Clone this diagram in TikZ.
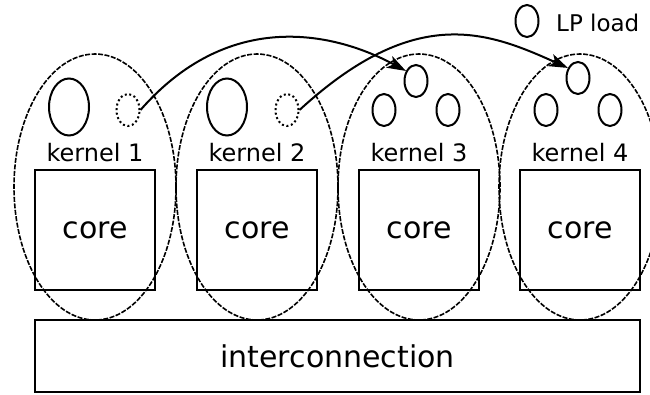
\documentclass[tikz,border=0pt]{standalone}
\usepackage{fontspec}
\setmainfont{DejaVu Sans}
\usetikzlibrary{shapes.geometric,arrows.meta}
\begin{document}
\begin{tikzpicture}[x=1pt,y=-1pt,
  kernelzone/.style={draw, ellipse, inner sep=0pt, line width=1.6pt,
    dash pattern=on 5pt off 1.5pt, minimum width=162pt, minimum height=266pt},
  corebox/.style={draw, line width=1.7pt, minimum width=120pt, minimum height=120pt,
    inner sep=0pt, font=\fontsize{30}{30}\selectfont},
  bigload/.style={draw, ellipse, line width=2pt, inner sep=0pt, minimum width=40pt, minimum height=57pt},
  lpload/.style={draw, ellipse, line width=2pt, inner sep=0pt, minimum width=23pt, minimum height=32pt},
  ghost/.style={lpload, dash pattern=on 2pt off 2.6pt},
  klabel/.style={font=\fontsize{24}{24}\selectfont},
  migrate/.style={line width=2pt, -{Stealth[length=19pt,width=13pt,inset=5pt]}}]
\useasboundingbox (0,0) rectangle (650,394);

% interconnection bar
\node[draw, line width=1.5pt, minimum width=605pt, minimum height=72pt, inner sep=0pt,
  font=\fontsize{30}{30}\selectfont] (net) at (337.5,356) {interconnection};

% cores
\foreach \i/\x in {1/95,2/257,3/419,4/580}{
  \node[corebox] (core\i) at (\x,230) {core};
  \node[klabel] (lab\i) at (\x,153) {kernel \i};
  \node[kernelzone] (zone\i) at (\x,187) {};
}

% kernels 1 and 2: one large load and a departed LP
\node[bigload] (k1b) at (69,107) {};
\node[ghost] (k1d) at (128,110) {};
\node[bigload] (k2b) at (227,107) {};
\node[ghost] (k2d) at (287,110) {};

% kernels 3 and 4: three LP loads each
\node[lpload] (k3t) at (416,81) {};
\node[lpload] (k3l) at (384,110) {};
\node[lpload] (k3r) at (448,110) {};
\node[lpload] (k4t) at (578,78) {};
\node[lpload] (k4l) at (546,110) {};
\node[lpload] (k4r) at (610,110) {};

% legend
\node[lpload] (leg) at (527,21) {};
\node[font=\fontsize{23}{23}\selectfont, anchor=west, inner sep=0pt] (legtxt) at (556,23) {LP load};

% migrations
\draw[migrate] (k1d.east) .. controls (227,11) and (330,30) .. (k3t.135);
\draw[migrate] (k2d.east) .. controls (416,3) and (488,32) .. (k4t.135);
\end{tikzpicture}
\end{document}
